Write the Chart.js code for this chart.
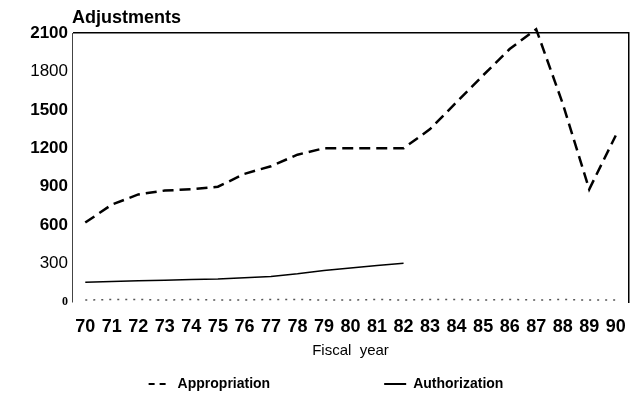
<!DOCTYPE html>
<html>
<head>
<meta charset="utf-8">
<script src="https://cdn.jsdelivr.net/npm/chart.js@4"></script>
<style>
  body { margin: 0; background: #fff; }
  #wrap { width: 642px; height: 417px; }
</style>
</head>
<body>
<div id="wrap"><canvas id="adjChart"></canvas></div>
<script>
// fiscal years on the x axis
const years = ['70','71','72','73','74','75','76','77','78','79','80','81','82','83','84','85','86','87','88','89','90'];
// dashed line
const appropriation = [620, 760, 840, 870, 880, 900, 1000, 1060, 1150, 1200, 1200, 1200, 1200, 1350, 1560, 1770, 1975, 2130, 1550, 880, 1300];
// solid line, stops after 82
const authorization = [155, 160, 165, 170, 175, 180, 190, 200, 220, 245, 265, 285, 302, null, null, null, null, null, null, null, null];
// dotted trace along the floor
const adjustments = [15, 20, 20, 15, 20, 15, 15, 20, 20, 15, 15, 20, 15, 20, 20, 15, 20, 15, 20, 15, 15];
const yTicks = [0, 300, 600, 900, 1200, 1500, 1800, 2100];

Chart.defaults.font.family = "'Liberation Sans', Arial, sans-serif";
Chart.defaults.color = '#000';

const titleText = {
  id: 'titleText',
  afterLayout(chart) {
    // nudge the legend row a little to the right
    if (chart.legend) { chart.legend.left += 10; chart.legend.right += 10; }
  },
  afterDraw(chart) {
    const ctx = chart.ctx;
    ctx.save();
    ctx.font = "bold 18px 'Liberation Sans', Arial, sans-serif";
    ctx.fillStyle = '#000';
    ctx.textBaseline = 'alphabetic';
    ctx.fillText('Adjustments', chart.chartArea.left, 23);
    ctx.restore();
  }
};

let adjChart = new Chart('adjChart', {
  type: 'line',
  data: {
    labels: years,
    datasets: [{
      label: 'Appropriation',
      data: appropriation,
      borderColor: '#000',
      borderWidth: 2.5,
      borderDash: [11, 6],
      pointRadius: 0,
      pointStyle: 'line',
      tension: 0,
      clip: false
    }, {
      label: 'Authorization',
      data: authorization,
      borderColor: '#000',
      borderWidth: 1.5,
      pointRadius: 0,
      pointStyle: 'line',
      tension: 0
    }, {
      label: 'Adjustments',
      data: adjustments,
      borderColor: '#555',
      borderWidth: 1.5,
      borderDash: [2, 6],
      pointRadius: 0,
      tension: 0
    }]
  },
  options: {
    responsive: true,
    maintainAspectRatio: false,
    animation: false,
    layout: { padding: { top: 33, right: 10, bottom: 16, left: 0 } },
    plugins: {
      title: { display: false },
      tooltip: { enabled: false },
      legend: {
        display: true,
        position: 'bottom',
        labels: {
          usePointStyle: true,
          pointStyleWidth: 22,
          boxHeight: 10,
          padding: 9,
          font: { size: 14, weight: 'bold' },
          filter: item => item.text !== 'Adjustments',
          generateLabels(chart) {
            const items = Chart.defaults.plugins.legend.labels.generateLabels(chart);
            items.forEach(it => {
              const ds = chart.data.datasets[it.datasetIndex];
              if (it.text === 'Appropriation') it.text = 'Appropriation\u2003\u2003\u2003\u2003\u2003\u2003\u2003\u2002';
              it.lineWidth = 2;
              it.lineDash = ds.borderDash ? [6, 5] : [];
            });
            return items;
          }
        }
      }
    },
    scales: {
      x: {
        offset: true,
        afterFit: s => { s.height = 66; },
        grid: { display: false, drawTicks: false },
        border: { display: false },
        ticks: {
          padding: 16,
          maxRotation: 0,
          autoSkip: false,
          font: { size: 18, weight: 'bold', lineHeight: 1 }
        },
        title: {
          display: true,
          text: 'Fiscal  year',
          font: { size: 15 },
          padding: { top: 0, bottom: 8 }
        }
      },
      y: {
        min: 0,
        max: 2100,
        afterBuildTicks: s => { s.ticks = yTicks.map(v => ({ value: v })); },
        afterFit: s => { s.width = 72; },
        grid: {
          drawTicks: false,
          color: c => c.tick && c.tick.value === 2100 ? '#000' : 'rgba(0,0,0,0)',
          lineWidth: 1.5
        },
        border: { display: true, color: '#444', width: 1 },
        ticks: {
          padding: 4,
          callback: v => String(v),
          font: c => {
            const v = c.tick ? c.tick.value : null;
            if (v === 0) return { family: "'Liberation Serif', serif", size: 12, weight: 'bold' };
            if (v === 300 || v === 1800) return { size: 17, weight: 'normal' };
            return { size: 17, weight: 'bold' };
          }
        }
      },
      y2: {
        position: 'right',
        min: 0,
        max: 2100,
        grid: { display: false, drawTicks: false },
        border: { display: true, color: '#000', width: 1.5 },
        ticks: { display: false }
      }
    }
  },
  plugins: [titleText]
});
</script>
</body>
</html>
